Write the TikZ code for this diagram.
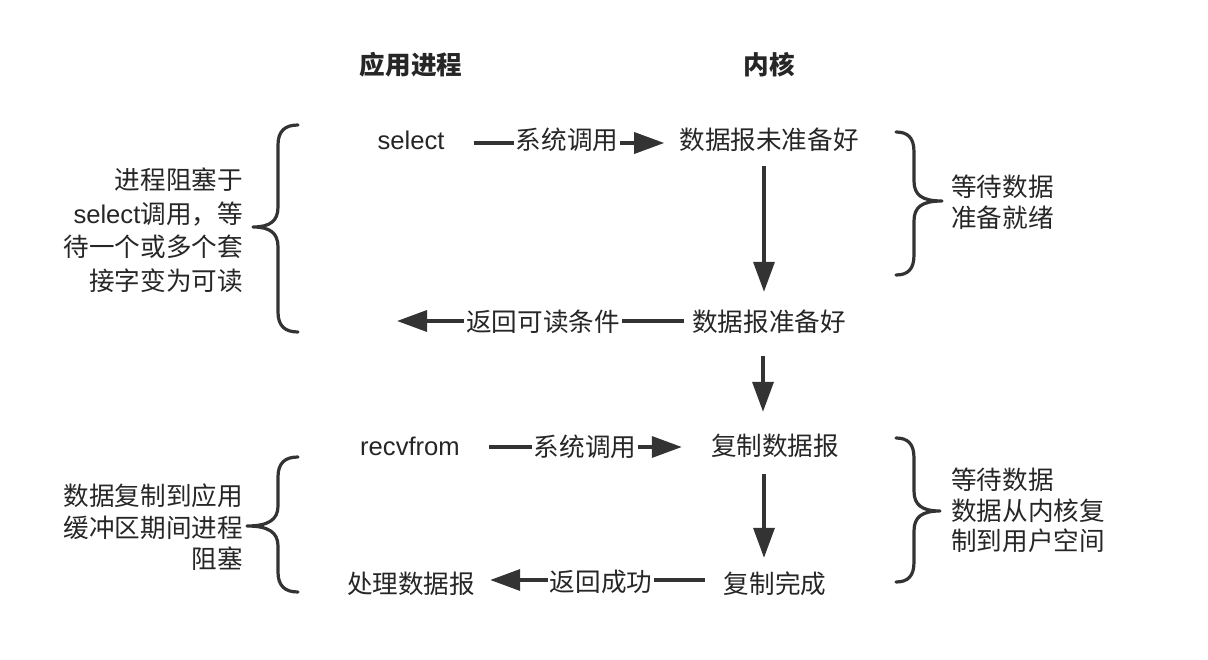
\documentclass[tikz,border=0pt]{standalone}
\usepackage{fontspec}
\setmainfont{Noto Sans CJK SC}
\newfontfamily\lat{Liberation Sans}
\usetikzlibrary{arrows.meta}
\definecolor{ink}{HTML}{262626}
\definecolor{lin}{HTML}{333333}
\tikzset{
  txt/.style={font=\fontsize{25.6}{30}\selectfont, text=ink, inner sep=0pt, text height=22pt, text depth=2pt},
  hdr/.style={txt, font=\fontsize{25.6}{30}\selectfont\bfseries},
  lab/.style={txt, fill=white, inner xsep=2pt},
  arr/.style={draw=lin, line width=3.5pt, -{Triangle[length=30pt,width=21pt]}},
  brace/.style={draw=lin, line width=3.2pt, line cap=round, line join=round},
}
\begin{document}
\begin{tikzpicture}[x=1pt,y=-1pt]
\path[use as bounding box] (0,0) rectangle (1208,660);

% headers
\node[hdr] (hA) at (411,65) {应用进程};
\node[hdr] (hK) at (769,65) {内核};

% main nodes
\node[txt] (sel) at (411,140) {\lat select};
\node[txt] (k1) at (769,140) {数据报未准备好};
\node[txt] (k2) at (769,322) {数据报准备好};
\coordinate (c2) at (397,322);
\node[txt] (rec) at (410,445) {\lat recvfrom};
\node[txt] (k3) at (775,445) {复制数据报};
\node[txt] (r4) at (411,583) {处理数据报};
\node[txt] (k4) at (775,583) {复制完成};

% horizontal arrows
\draw[arr, shorten <=29pt, shorten >=15pt] ([yshift=-3pt]sel.east) -- ([yshift=-3pt]k1.west);
\node[lab] (l1) at (567,140) {系统调用};
\draw[arr, shorten <=8pt] ([yshift=1pt]k2.west) -- ([yshift=1pt]c2);
\node[lab] (l2) at (543,322) {返回可读条件};
\draw[arr, shorten <=29pt, shorten >=29pt] ([yshift=-2pt]rec.east) -- ([yshift=-2pt]k3.west);
\node[lab] (l3) at (585,446) {系统调用};
\draw[arr, shorten <=19pt, shorten >=15pt] ([yshift=3pt]k4.west) -- ([yshift=3pt]r4.east);
\node[lab] (l4) at (601,581) {返回成功};

% vertical arrows
\draw[arr, shorten <=14pt, shorten >=18pt] ([xshift=-5pt]k1.south) -- ([xshift=-5pt]k2.north);
\draw[arr, shorten <=22pt, shorten >=21pt] ([xshift=-6pt]k2.south) -- ([xshift=-12pt]k3.north);
\draw[arr, shorten <=17pt, shorten >=13pt] ([xshift=-11pt]k3.south) -- ([xshift=-11pt]k4.north);

% left brace 1
\draw[brace] (298,125) .. controls (285,125) and (278,131) .. (278,145) -- (278,207)
  .. controls (278,221) and (270,227) .. (253,227)
  .. controls (270,227) and (278,233) .. (278,247) -- (278,312)
  .. controls (278,326) and (285,332) .. (298,332);
% left brace 2
\draw[brace] (298,457) .. controls (285,457) and (278,463) .. (278,477) -- (278,506)
  .. controls (278,520) and (268,526) .. (247,526)
  .. controls (268,526) and (278,532) .. (278,546) -- (278,572)
  .. controls (278,586) and (285,592) .. (298,592);
% right brace 1
\draw[brace] (896,132) .. controls (908,132) and (914,138) .. (914,152) -- (914,181)
  .. controls (914,195) and (922,201) .. (942,201)
  .. controls (922,201) and (914,207) .. (914,221) -- (914,255)
  .. controls (914,269) and (908,275) .. (896,275);
% right brace 2
\draw[brace] (896,438) .. controls (908,438) and (914,444) .. (914,458) -- (914,491)
  .. controls (914,505) and (922,511) .. (940,511)
  .. controls (922,511) and (914,517) .. (914,531) -- (914,562)
  .. controls (914,576) and (908,582) .. (896,582);

% brace texts, left
\node[txt, anchor=east] (b1a) at (243,180) {进程阻塞于};
\node[txt, anchor=east] (b1b) at (243,214) {{\lat select}调用，等};
\node[txt, anchor=east] (b1c) at (243,247) {待一个或多个套};
\node[txt, anchor=east] (b1d) at (243,281) {接字变为可读};
\node[txt, anchor=east] (b2a) at (243,495) {数据复制到应用};
\node[txt, anchor=east] (b2b) at (243,527) {缓冲区期间进程};
\node[txt, anchor=east] (b2c) at (243,558) {阻塞};
% brace texts, right
\node[txt, anchor=west] (b3a) at (951,187) {等待数据};
\node[txt, anchor=west] (b3b) at (951,218) {准备就绪};
\node[txt, anchor=west] (b4a) at (951,479) {等待数据};
\node[txt, anchor=west] (b4b) at (951,510) {数据从内核复};
\node[txt, anchor=west] (b4c) at (951,540) {制到用户空间};
\end{tikzpicture}
\end{document}
